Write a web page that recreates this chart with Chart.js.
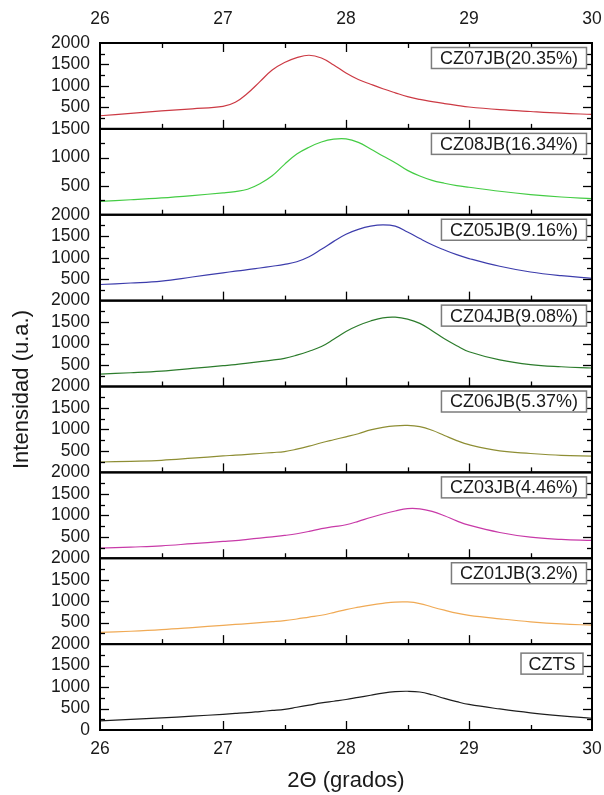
<!DOCTYPE html>
<html>
<head>
<meta charset="utf-8">
<script src="https://cdn.jsdelivr.net/npm/chart.js@4/dist/chart.umd.min.js"></script>
<style>
  html, body { margin: 0; padding: 0; background: #fff; }
  canvas { display: block; }
</style>
</head>
<body>
<canvas id="xrd" width="604" height="795"></canvas>
<script>
// 2θ positions (degrees) of the sampled diffractogram points
const twoTheta = [26, 26.25, 26.5, 26.75, 27, 27.1, 27.2, 27.3, 27.4, 27.5, 27.6, 27.7, 27.8, 27.9,
  28, 28.1, 28.2, 28.3, 28.4, 28.5, 28.6, 28.7, 28.8, 28.9, 29, 29.25, 29.5, 29.75, 30];

// Intensity (a.u.) of each sample, top panel to bottom panel
const cz07 = [306, 360, 418, 468, 525, 620, 830, 1100, 1370, 1545, 1660, 1715, 1650, 1490,
  1300, 1150, 1040, 935, 840, 750, 685, 635, 590, 548, 510, 450, 405, 365, 337];
const cz08 = [235, 262, 294, 335, 382, 405, 445, 540, 680, 880, 1060, 1180, 1270, 1320,
  1325, 1265, 1150, 1025, 910, 775, 676, 600, 550, 510, 480, 410, 353, 310, 282];
const cz05 = [375, 410, 455, 550, 648, 685, 720, 760, 800, 844, 905, 1020, 1195, 1380,
  1547, 1660, 1735, 1766, 1735, 1600, 1445, 1300, 1180, 1070, 980, 800, 666, 580, 520];
const cz04 = [289, 320, 359, 420, 484, 510, 545, 580, 615, 656, 730, 820, 930, 1100,
  1281, 1420, 1525, 1600, 1615, 1570, 1470, 1300, 1110, 950, 810, 620, 510, 460, 431];
const cz06 = [242, 258, 281, 330, 383, 400, 420, 440, 462, 484, 540, 610, 690, 760,
  828, 900, 990, 1050, 1085, 1094, 1065, 980, 860, 740, 645, 500, 440, 395, 378];
const cz03 = [234, 260, 289, 340, 391, 410, 440, 470, 500, 531, 570, 625, 690, 735,
  781, 860, 950, 1030, 1100, 1155, 1150, 1090, 990, 870, 770, 600, 490, 440, 414];
const cz01 = [273, 300, 336, 385, 438, 458, 478, 500, 522, 547, 585, 630, 672, 735,
  805, 860, 910, 950, 980, 982, 945, 865, 790, 720, 670, 590, 520, 470, 443];
const czts = [214, 248, 282, 322, 366, 385, 405, 430, 455, 481, 530, 580, 630, 670,
  710, 760, 810, 860, 893, 902, 885, 820, 735, 660, 595, 490, 400, 330, 274];

const sampleNames = ['CZ07JB(20.35%)', 'CZ08JB(16.34%)', 'CZ05JB(9.16%)', 'CZ04JB(9.08%)',
  'CZ06JB(5.37%)', 'CZ03JB(4.46%)', 'CZ01JB(3.2%)', 'CZTS'];
const sampleSeries = [cz07, cz08, cz05, cz04, cz06, cz03, cz01, czts];
const panelMax = [2000, 1500, 2000, 2000, 2000, 2000, 2000, 2000];

// tick values / labels
const xTickLabels = [26, 27, 28, 29, 30];
const yTickLabels = [500, 1000, 1500, 2000];

const lineColors = ['#cc3a44', '#44cc44', '#3d3dac', '#2c7c2c', '#8e8e34', '#c83aa8', '#f0aa55', '#1e1e1e'];

const FONT = '"Liberation Sans", Arial, Helvetica, sans-serif';

const datasets = sampleSeries.map((vals, i) => ({
  label: sampleNames[i],
  data: twoTheta.map((t, k) => ({ x: t, y: vals[k] })),
  yAxisID: 'y' + i,
  borderColor: lineColors[i],
  borderWidth: 1.2,
  pointRadius: 0,
  fill: false,
  tension: 0.4
}));

const scales = {
  x: { type: 'linear', min: 26, max: 30, display: false }
};
panelMax.forEach((m, i) => {
  scales['y' + i] = {
    type: 'linear', min: 0, max: m, display: false,
    position: 'left', stack: 'panels', stackWeight: 1, weight: 20 - i
  };
});

// frames, inward ticks, tick labels, sample boxes and axis titles
const framePlugin = {
  id: 'stackedFrames',
  afterDatasetsDraw(chart) {
    const ctx = chart.ctx;
    const xs = chart.scales.x;
    const { left, right } = chart.chartArea;
    ctx.save();

    const seg = (x1, y1, x2, y2) => { ctx.beginPath(); ctx.moveTo(x1, y1); ctx.lineTo(x2, y2); ctx.stroke(); };

    panelMax.forEach((m, i) => {
      const ys = chart.scales['y' + i];
      const top = ys.top, bottom = ys.bottom;

      ctx.strokeStyle = '#000';
      ctx.lineWidth = 1.3;
      // y ticks, left and right, pointing inward
      for (let v = 250; v < m; v += 250) {
        const py = Math.round(ys.getPixelForValue(v)) + 0.5;
        const len = v % 500 === 0 ? 9 : 5;
        seg(left, py, left + len, py);
        seg(right, py, right - len, py);
      }
      // x ticks at the panel bottom (and top for first panel)
      for (let t = 26.5; t < 30; t += 0.5) {
        const px = Math.round(xs.getPixelForValue(t)) + 0.5;
        const len = Number.isInteger(t) ? 9 : 5;
        seg(px, bottom, px, bottom - len);
        if (i === 0) seg(px, top, px, top + len);
      }

      // frame
      ctx.lineWidth = 2;
      ctx.strokeRect(left, top, right - left, bottom - top);

      // y tick labels
      ctx.fillStyle = '#1a1a1a';
      ctx.font = '17.5px ' + FONT;
      ctx.textAlign = 'right';
      ctx.textBaseline = 'middle';
      const labels = yTickLabels.filter(v => v <= m);
      if (i === panelMax.length - 1) labels.unshift(0);
      labels.forEach(v => {
        ctx.fillText(String(v), left - 10, ys.getPixelForValue(v));
      });

      // sample name box
      ctx.font = '18px ' + FONT;
      const tw = ctx.measureText(sampleNames[i]).width;
      const isLast = i === panelMax.length - 1;
      const bw = tw + (isLast ? 15 : 17);
      const bh = 21;
      const bx = right - (isLast ? 9 : 5.5) - bw;
      const by = top + (isLast ? 9 : 4.5);
      ctx.fillStyle = '#fff';
      ctx.fillRect(bx, by, bw, bh);
      ctx.strokeStyle = '#7c7c7c';
      ctx.lineWidth = 1.5;
      ctx.strokeRect(bx, by, bw, bh);
      ctx.fillStyle = '#1a1a1a';
      ctx.textAlign = 'center';
      ctx.fillText(sampleNames[i], bx + bw / 2, by + bh / 2 + 1);
    });

    // x tick labels top and bottom
    const first = chart.scales.y0, last = chart.scales['y' + (panelMax.length - 1)];
    ctx.fillStyle = '#1a1a1a';
    ctx.font = '17.5px ' + FONT;
    ctx.textAlign = 'center';
    ctx.textBaseline = 'middle';
    xTickLabels.forEach(t => {
      const px = xs.getPixelForValue(t);
      ctx.fillText(String(t), px, first.top - 24);
      ctx.fillText(String(t), px, last.bottom + 19);
    });

    // axis titles
    ctx.font = '22px ' + FONT;
    ctx.fillText('2\u0398 (grados)', (left + right) / 2, last.bottom + 51);
    ctx.save();
    ctx.translate(22, (first.top + last.bottom) / 2 + 3);
    ctx.rotate(-Math.PI / 2);
    ctx.fillText('Intensidad (u.a.)', 0, 0);
    ctx.restore();

    ctx.restore();
  }
};

new Chart(document.getElementById('xrd'), {
  type: 'line',
  data: { datasets },
  options: {
    responsive: false,
    animation: false,
    devicePixelRatio: 1,
    layout: { padding: { left: 100, right: 12, top: 43, bottom: 65 } },
    plugins: { legend: { display: false }, tooltip: { enabled: false } },
    scales
  },
  plugins: [framePlugin]
});
</script>
</body>
</html>
